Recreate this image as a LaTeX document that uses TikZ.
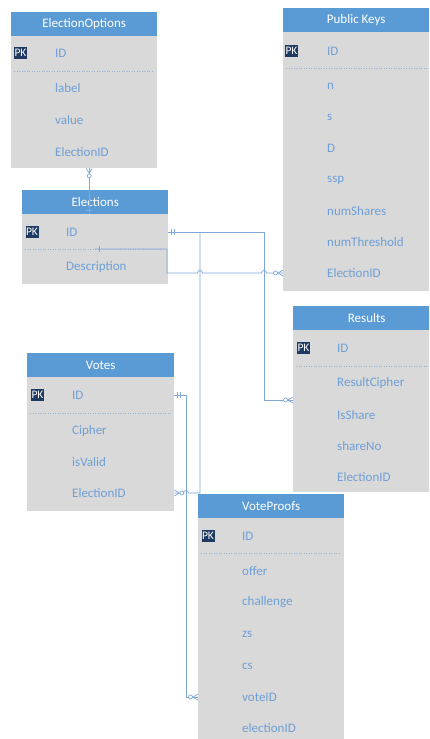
\documentclass[tikz,border=0pt]{standalone}
\usepackage{fontspec}
\setmainfont{Carlito}
\definecolor{hdrblue}{HTML}{5B9BD5}
\definecolor{bodygrey}{HTML}{D9D9D9}
\definecolor{fldblue}{HTML}{6E9FD6}
\definecolor{pknavy}{HTML}{1F3A60}
\definecolor{lineblue}{HTML}{7FA8D8}
\definecolor{sepblue}{HTML}{9AB3D0}
\tikzset{
  hdr/.style={fill=hdrblue, text=white, font=\fontsize{13}{15}\selectfont, minimum height=24pt, minimum width=146pt, anchor=north west, inner sep=0pt},
  bodybox/.style={fill=bodygrey, minimum width=146pt, anchor=north west, inner sep=0pt},
  fld/.style={text=fldblue, font=\fontsize{13}{15}\selectfont, anchor=west, inner sep=0pt},
  pkbox/.style={fill=pknavy, text=white, font=\fontsize{11.5}{12}\selectfont, inner sep=0pt, minimum width=13pt, minimum height=12pt},
  sepline/.style={draw=sepblue, line width=0.5pt, dotted},
  conn/.style={draw=lineblue, line width=0.7pt},
  zmany/.pic={\draw[conn] (-5,0) -- (0,-3) (-5,0) -- (0,3); \draw[conn, fill=white] (-7.5,0) circle[radius=2pt];},
  onemark/.pic={\draw[conn] (-4,-3) -- (-4,3);},
  twomark/.pic={\draw[conn] (-3,-3) -- (-3,3) (-6,-3) -- (-6,3);}
}
\begin{document}
\begin{tikzpicture}[x=1pt,y=-1pt]
\useasboundingbox (0,0) rectangle (429,739);
\clip (0,0) rectangle (429,739);
\fill[white] (0,0) rectangle (429,739);

% ElectionOptions
\node[hdr] (eoH) at (11,12) {ElectionOptions};
\node[bodybox, minimum height=132pt] (eoB) at (11,36) {};
\node[pkbox] (eoPK) at (20.5,53) {PK};
\node[fld] (eoID) at (55,53) {ID};
\draw[sepline] (14,71) -- (154,71);
\node[fld] (eoLabel) at (55,88) {label};
\node[fld] (eoValue) at (55,120) {value};
\node[fld] (eoEid) at (55,152) {ElectionID};

% Public Keys
\node[hdr] (pkH) at (283,8) {Public Keys};
\node[bodybox, minimum height=259pt] (pkB) at (283,32) {};
\node[pkbox] (pkPK) at (291.5,51) {PK};
\node[fld] (pkID) at (327,51) {ID};
\draw[sepline] (286,68) -- (429,68);
\node[fld] (pkN) at (327,86) {n};
\node[fld] (pkS) at (327,117) {s};
\node[fld] (pkD) at (327,148) {D};
\node[fld] (pkSsp) at (327,180) {ssp};
\node[fld] (pkNs) at (327,211) {numShares};
\node[fld] (pkNt) at (327,242) {numThreshold};
\node[fld] (pkEid) at (327,273) {ElectionID};

% Elections
\node[hdr] (elH) at (22,190) {Elections};
\node[bodybox, minimum height=70pt] (elB) at (22,214) {};
\node[pkbox] (elPK) at (32,232) {PK};
\node[fld] (elID) at (66,232) {ID};
\draw[sepline] (25,249) -- (165,249);
\node[fld] (elDesc) at (66,267) {Description};

% Results
\node[hdr, minimum width=147pt] (rsH) at (293,306) {Results};
\node[bodybox, minimum width=147pt, minimum height=162pt] (rsB) at (293,330) {};
\node[pkbox] (rsPK) at (303.5,348) {PK};
\node[fld] (rsID) at (337,348) {ID};
\draw[sepline] (296,366) -- (429,366);
\node[fld] (rsRc) at (337,383) {ResultCipher};
\node[fld] (rsIs) at (337,415) {IsShare};
\node[fld] (rsSn) at (337,446) {shareNo};
\node[fld] (rsEid) at (337,477) {ElectionID};

% Votes
\node[hdr, minimum width=147pt] (vtH) at (27,353) {Votes};
\node[bodybox, minimum width=147pt, minimum height=134pt] (vtB) at (27,377) {};
\node[pkbox] (vtPK) at (37.5,395) {PK};
\node[fld] (vtID) at (72,395) {ID};
\draw[sepline] (30,413) -- (171,413);
\node[fld] (vtCipher) at (72,431) {Cipher};
\node[fld] (vtValid) at (72,462) {isValid};
\node[fld] (vtEid) at (72,493) {ElectionID};

% VoteProofs
\node[hdr] (vpH) at (198,494) {VoteProofs};
\node[bodybox, minimum height=230pt] (vpB) at (198,518) {};
\node[pkbox] (vpPK) at (208,536) {PK};
\node[fld] (vpID) at (242,536) {ID};
\draw[sepline] (201,553) -- (341,553);
\node[fld] (vpOffer) at (242,571) {offer};
\node[fld] (vpCh) at (242,602) {challenge};
\node[fld] (vpZs) at (242,634) {zs};
\node[fld] (vpCs) at (242,666) {cs};
\node[fld] (vpVote) at (242,697) {voteID};
\node[fld] (vpEid) at (242,728) {electionID};

% connectors
% ElectionOptions -- Elections
\draw[conn] ([xshift=5pt]eoB.south) -- ([xshift=-6pt]elB.north);
\pic[rotate=90] at ([xshift=5pt]eoB.south) {zmany};
\pic[rotate=-90] at ([xshift=-6pt]elB.north) {onemark};

% Elections.ID -- Results, Votes
\coordinate (b1) at (264,232);
\coordinate (b2) at (264,400);
\coordinate (j1) at (200,232);
\coordinate (j2) at (200,493);
\draw[conn] (elID -| elB.east) -- (b1) -- (b2) -- (b2 -| rsB.west);
\draw[conn] (j1) -- (j2) -- (188.5,493) arc[start angle=0, end angle=180, radius=2.5pt] -- (j2 -| vtB.east);
\pic[rotate=180] at (elID -| elB.east) {twomark};
\pic at (b2 -| rsB.west) {zmany};
\pic[rotate=180] at (j2 -| vtB.east) {zmany};

% Elections -- Public Keys
\coordinate (elSep) at (95,249);
\coordinate (c1) at (167,249);
\coordinate (c2) at (167,273);
\draw[conn] (elSep) -- (c1) -- (c2) -- (197.5,273) arc[start angle=180, end angle=0, radius=2.5pt] -- (261.5,273) arc[start angle=180, end angle=0, radius=2.5pt] -- (pkEid -| pkB.west);
\pic[rotate=180] at (elSep) {onemark};
\pic at (pkEid -| pkB.west) {zmany};

% Votes.ID -- VoteProofs.voteID
\coordinate (d1) at (186,395);
\coordinate (d2) at (186,697);
\draw[conn] (vtID -| vtB.east) -- (d1) -- (d2) -- (vpVote -| vpB.west);
\pic[rotate=180] at (vtID -| vtB.east) {twomark};
\pic at (vpVote -| vpB.west) {zmany};
\end{tikzpicture}
\end{document}
